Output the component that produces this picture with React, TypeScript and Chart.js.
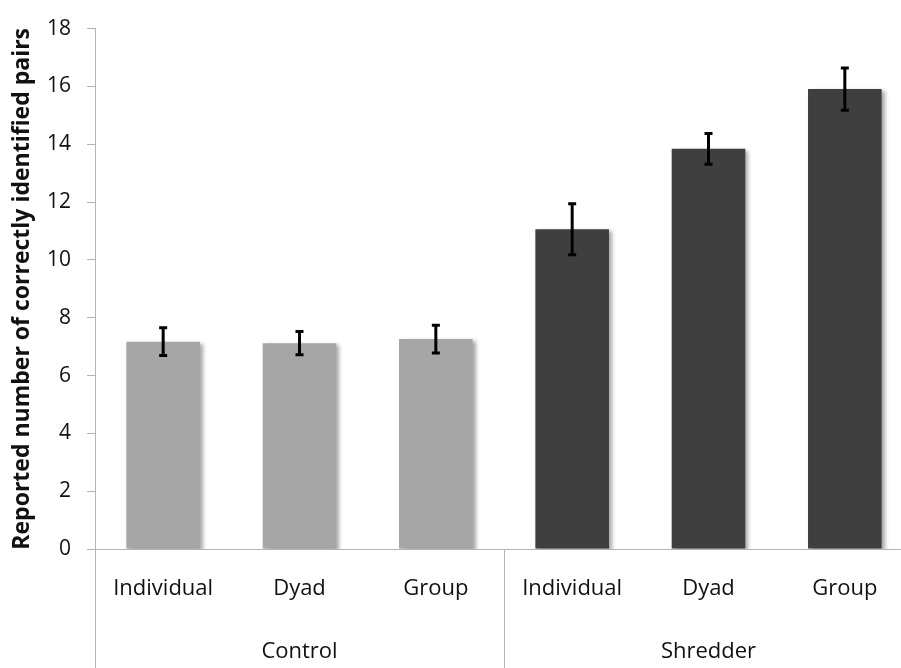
import React, { useEffect, useRef } from "react";
import { Chart, registerables } from "chart.js";

Chart.register(...registerables);

const categories = ["Individual", "Dyad", "Group", "Individual", "Dyad", "Group"];
const groups = ["Control", "Shredder"];
const means = [7.17, 7.12, 7.26, 11.06, 13.84, 15.91];
const errors = [0.48, 0.4, 0.48, 0.88, 0.53, 0.73];
const barColors = ["#a6a6a6", "#a6a6a6", "#a6a6a6", "#3f3f3f", "#3f3f3f", "#3f3f3f"];
const yTitle = "Reported number of correctly identified pairs";

const AXIS_GRAY = "#b4b4b4";
const TEXT = "#111111";
const FONT = "'Open Sans', 'DejaVu Sans', sans-serif";

const shadowPlugin = {
  id: "barShadow",
  beforeDatasetsDraw(chart: any) {
    const ctx = chart.ctx;
    ctx.save();
    ctx.shadowColor = "rgba(0,0,0,0.35)";
    ctx.shadowBlur = 4;
    ctx.shadowOffsetX = 3;
    ctx.shadowOffsetY = 2;
  },
  afterDatasetsDraw(chart: any) {
    const ctx = chart.ctx;
    ctx.restore();
    const meta = chart.getDatasetMeta(0);
    const y = chart.scales.y;
    ctx.save();
    ctx.strokeStyle = "#000";
    ctx.lineWidth = 3;
    ctx.lineCap = "butt";
    meta.data.forEach((bar: any, i: number) => {
      const x = bar.x;
      const yTop = y.getPixelForValue(means[i] + errors[i]);
      const yBot = y.getPixelForValue(means[i] - errors[i]);
      ctx.beginPath();
      ctx.moveTo(x, yTop);
      ctx.lineTo(x, yBot);
      ctx.moveTo(x - 4, yTop);
      ctx.lineTo(x + 4, yTop);
      ctx.moveTo(x - 4, yBot);
      ctx.lineTo(x + 4, yBot);
      ctx.stroke();
    });
    ctx.restore();
  },
};

const separatorPlugin = {
  id: "groupSeparators",
  afterDraw(chart: any) {
    const ctx = chart.ctx;
    const x = chart.scales.x;
    const bottom = chart.chartArea.bottom;
    const mid = (x.getPixelForValue(2) + x.getPixelForValue(3)) / 2;
    const xs = [x.left, mid, x.right];
    ctx.save();
    ctx.strokeStyle = AXIS_GRAY;
    ctx.lineWidth = 1;
    xs.forEach((px) => {
      const p = Math.round(px) + 0.5;
      ctx.beginPath();
      ctx.moveTo(p, bottom);
      ctx.lineTo(p, chart.height);
      ctx.stroke();
    });
    ctx.restore();
  },
};

export default function App() {
  const ref = useRef<HTMLCanvasElement | null>(null);

  useEffect(() => {
    if (!ref.current) return;
    const chart = new Chart(ref.current, {
      type: "bar",
      data: {
        labels: categories,
        datasets: [
          {
            data: means,
            backgroundColor: barColors,
            borderWidth: 0,
            categoryPercentage: 1,
            barPercentage: 0.54,
          },
        ],
      },
      options: {
        responsive: false,
        animation: false,
        devicePixelRatio: 1,
        layout: { padding: { top: 18, right: 7, left: 0, bottom: 0 } },
        plugins: {
          legend: { display: false },
          tooltip: { enabled: false },
        },
        scales: {
          y: {
            min: 0,
            max: 18,
            ticks: {
              stepSize: 2,
              color: TEXT,
              padding: 16,
              font: { family: FONT, size: 21 },
            },
            grid: {
              drawOnChartArea: false,
              drawTicks: true,
              tickLength: 8,
              color: AXIS_GRAY,
            },
            border: { display: true, color: AXIS_GRAY },
            title: {
              display: true,
              text: yTitle,
              color: TEXT,
              padding: { top: 9, bottom: 0 },
              font: { family: FONT, size: 23, weight: "bold" },
            },
            afterFit(scale: any) {
              scale.width = 95;
            },
          },
          x: {
            offset: true,
            ticks: {
              color: TEXT,
              padding: 19,
              font: { family: FONT, size: 22 },
            },
            grid: { display: false },
            border: { display: true, color: AXIS_GRAY },
            afterFit(scale: any) {
              scale.height = 70;
            },
          },
          x2: {
            type: "category",
            position: "bottom",
            weight: 1,
            labels: groups,
            offset: true,
            ticks: {
              color: TEXT,
              padding: 12,
              font: { family: FONT, size: 22 },
            },
            grid: { display: false },
            border: { display: false },
            afterFit(scale: any) {
              scale.height = 49;
            },
          },
        },
      } as any,
      plugins: [shadowPlugin, separatorPlugin],
    });
    return () => chart.destroy();
  }, []);

  return (
    <div
      style={{
        position: "fixed",
        left: 0,
        top: 0,
        width: 901,
        height: 668,
        overflow: "hidden",
        background: "#fff",
      }}
    >
      <canvas ref={ref} width={920} height={668} style={{ width: 920, height: 668, display: "block" }} />
    </div>
  );
}
